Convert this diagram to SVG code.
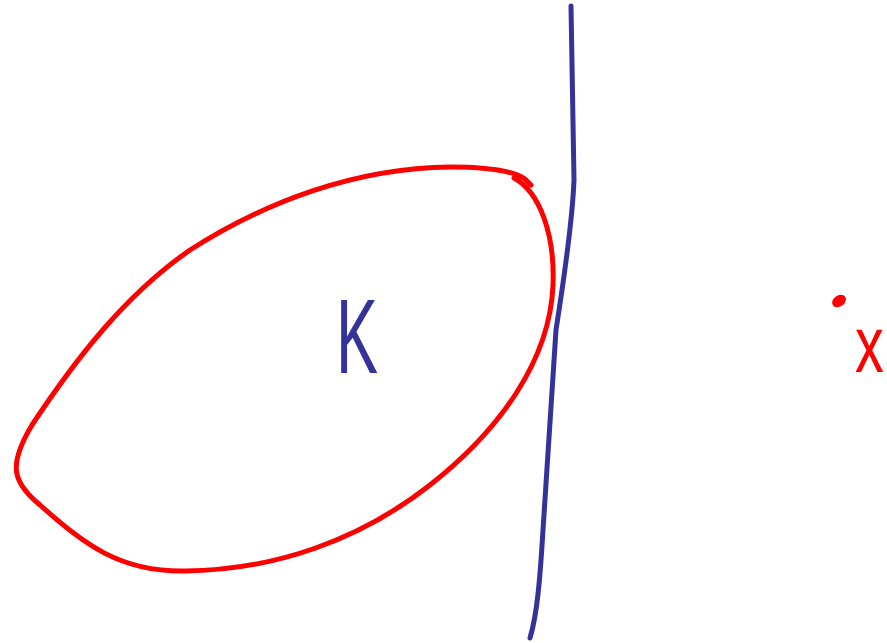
<svg xmlns="http://www.w3.org/2000/svg" width="887" height="643" viewBox="0 0 887 643">
<style>
.red{fill:none;stroke:#ff0000;stroke-width:5;stroke-linecap:round;stroke-linejoin:round}
.blue{fill:none;stroke:#33339a;stroke-width:5;stroke-linecap:round;stroke-linejoin:round}
.lbl{font-family:"Liberation Sans",Arial,sans-serif}
</style>
<rect width="887" height="643" fill="#ffffff"/>
<g id="set-K">
<path class="red" d="M 514,178 C 540,192 555,235 553,285 C 550,360 500,430 430,485 C 360,540 275,570 185,571 C 120,572 85,545 40,505 C 12,482 8,465 32,425 C 75,360 125,295 190,250 C 265,202 355,168 450,167 C 490,167 515,172 525,179 L 531,185"/>
<text class="lbl" x="0" y="0" font-size="105" fill="#33339a" transform="translate(336,373) scale(0.6,1)">K</text>
</g>
<g id="line">
<path class="blue" d="M 571,6 C 572,60 573,120 574,180 C 572,230 562,290 556,330 C 551,400 547,470 543,530 C 540,580 537,615 530,638"/>
</g>
<g id="point-x">
<ellipse cx="839" cy="301" rx="7.5" ry="5.5" transform="rotate(-35 839 301)" fill="#ff0000"/>
<text class="lbl" x="0" y="0" font-size="80" fill="#ff0000" transform="translate(855,372) scale(0.72,1)">x</text>
</g>
</svg>
